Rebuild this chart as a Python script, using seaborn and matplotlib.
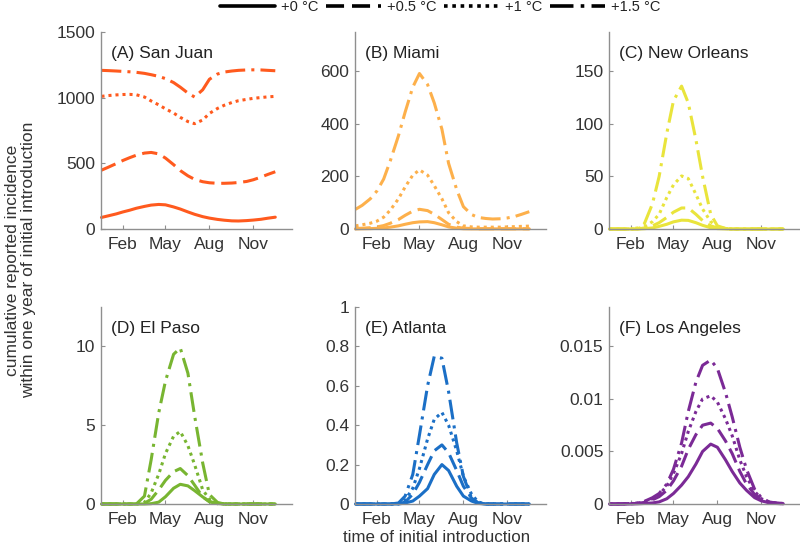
import numpy as np
import pandas as pd
import matplotlib
matplotlib.use("Agg")
import matplotlib.pyplot as plt
from matplotlib.lines import Line2D
from matplotlib.ticker import FuncFormatter
import seaborn as sns

# ===== DATA (semi-monthly sample days) =======================================

DAYS = [1, 15, 32, 46, 60, 74, 91, 105, 121, 135, 152, 166, 182,
        196, 213, 227, 244, 258, 274, 288, 305, 319, 335, 349, 365]
MONTH_TICKS = [46, 135, 227, 319]
MONTH_LABELS = ['Feb', 'May', 'Aug', 'Nov']
WARMING = ['+0 °C', '+0.5 °C', '+1 °C', '+1.5 °C']

# (A) San Juan
SAN_JUAN_0 = [88, 100, 115, 130, 143, 158, 172, 182, 187, 184, 168, 152, 130,
              112, 94, 83, 73, 67, 62, 61, 64, 68, 74, 82, 90]
SAN_JUAN_05 = [448, 470, 498, 522, 543, 562, 578, 583, 572, 540, 490, 445, 405,
               378, 360, 352, 348, 348, 350, 354, 362, 375, 395, 415, 436]
SAN_JUAN_1 = [1010, 1016, 1021, 1024, 1025, 1022, 1005, 975, 945, 915, 883, 850, 818,
              802, 830, 880, 918, 942, 963, 977, 987, 995, 1001, 1006, 1010]
SAN_JUAN_15 = [1208, 1206, 1203, 1200, 1197, 1193, 1185, 1175, 1162, 1145, 1115, 1080, 1035,
               1005, 1060, 1140, 1180, 1195, 1203, 1208, 1211, 1212, 1211, 1208, 1205]

# (B) Miami
MIAMI_0 = [0.5, 1, 1.5, 2.5, 4, 7, 12, 18, 24, 27, 28, 24, 16,
           8, 3, 1, 0.5, 0.5, 0.5, 0.5, 0.5, 0.5, 0.5, 0.5, 0.5]
MIAMI_05 = [2, 3, 5, 8, 13, 22, 36, 52, 68, 75, 70, 56, 36,
            18, 7, 3, 2, 1, 1, 1, 1, 1, 1, 1, 1]
MIAMI_1 = [12, 16, 22, 30, 45, 72, 115, 160, 205, 225, 205, 165, 115,
           62, 28, 12, 8, 7, 7, 7, 7, 8, 9, 10, 11]
MIAMI_15 = [75, 90, 115, 145, 190, 260, 355, 445, 540, 592, 550, 480, 380,
            250, 150, 85, 55, 44, 40, 38, 39, 42, 48, 56, 66]

# (C) New Orleans
NEW_ORLEANS_0 = [0, 0, 0, 0, 0, 0.3, 1, 2.5, 4.5, 6.8, 8.4, 8.2, 6,
                 3.5, 1.2, 0.4, 0.1, 0, 0, 0, 0, 0, 0, 0, 0]
NEW_ORLEANS_05 = [0, 0, 0, 0, 0, 1, 3, 6, 11, 16, 20, 20, 14,
                  8, 3, 1, 0.2, 0, 0, 0, 0, 0, 0, 0, 0]
NEW_ORLEANS_1 = [0, 0, 0, 0, 0.5, 2, 7, 14, 30, 42, 50.5, 48, 33,
                 19, 7, 2, 0.5, 0, 0, 0, 0, 0, 0, 0, 0]
NEW_ORLEANS_15 = [0, 0, 0, 0, 1, 5, 24, 50, 91, 122, 136, 120, 85,
                  50, 14, 3, 0.5, 0, 0, 0, 0, 0, 0, 0, 0]

# (D) El Paso
EL_PASO_0 = [0, 0, 0, 0, 0, 0, 0, 0.02, 0.12, 0.46, 1.0, 1.25, 1.15,
             0.85, 0.45, 0.15, 0.03, 0, 0, 0, 0, 0, 0, 0, 0]
EL_PASO_05 = [0, 0, 0, 0, 0, 0, 0.05, 0.3, 0.9, 1.5, 2.05, 2.25, 1.8,
              1.2, 0.45, 0.15, 0.02, 0, 0, 0, 0, 0, 0, 0, 0]
EL_PASO_1 = [0, 0, 0, 0, 0, 0, 0.1, 0.7, 1.9, 3.2, 4.3, 4.6, 3.7,
             2.5, 0.9, 0.3, 0.05, 0, 0, 0, 0, 0, 0, 0, 0]
EL_PASO_15 = [0, 0, 0, 0, 0, 0, 0.5, 2.8, 5.8, 7.8, 9.5, 9.9, 8.3,
              5.6, 2.6, 0.6, 0.1, 0, 0, 0, 0, 0, 0, 0, 0]

# (E) Atlanta
ATLANTA_0 = [0, 0, 0, 0, 0, 0, 0, 0.005, 0.015, 0.04, 0.078, 0.15, 0.20,
             0.17, 0.09, 0.04, 0.015, 0.003, 0, 0, 0, 0, 0, 0, 0]
ATLANTA_05 = [0, 0, 0, 0, 0, 0, 0, 0.01, 0.05, 0.11, 0.20, 0.27, 0.30,
              0.26, 0.17, 0.09, 0.03, 0.005, 0, 0, 0, 0, 0, 0, 0]
ATLANTA_1 = [0, 0, 0, 0, 0, 0, 0, 0.02, 0.08, 0.18, 0.33, 0.43, 0.465,
             0.40, 0.27, 0.14, 0.05, 0.01, 0, 0, 0, 0, 0, 0, 0]
ATLANTA_15 = [0, 0, 0, 0, 0, 0, 0.005, 0.04, 0.15, 0.35, 0.60, 0.75, 0.74,
              0.57, 0.31, 0.14, 0.03, 0.005, 0, 0, 0, 0, 0, 0, 0]

# (F) Los Angeles
LOS_ANGELES_0 = [0, 0, 0, 0, 0.00002, 0.00005, 0.0001, 0.0002, 0.0005, 0.001, 0.0018, 0.0026, 0.0038,
                 0.0050, 0.0057, 0.0054, 0.0042, 0.0031, 0.002, 0.0013, 0.0006, 0.0003, 0.00012, 0.00005, 0.00002]
LOS_ANGELES_05 = [0, 0, 0.00001, 0.00003, 0.00006, 0.00015, 0.0004, 0.0007, 0.0013, 0.0022, 0.0036, 0.0052, 0.0066,
                  0.0075, 0.0077, 0.0072, 0.006, 0.0048, 0.0031, 0.0019, 0.0009, 0.0004, 0.00015, 0.00007, 0.00003]
LOS_ANGELES_1 = [0, 0, 0.00002, 0.00004, 0.00008, 0.0002, 0.0005, 0.0009, 0.0017, 0.0029, 0.0048, 0.0069, 0.0088,
                 0.0100, 0.0103, 0.0097, 0.0081, 0.0065, 0.0042, 0.0026, 0.0012, 0.0005, 0.0002, 0.0001, 0.00004]
LOS_ANGELES_15 = [0, 0, 0.00002, 0.00005, 0.0001, 0.00025, 0.0006, 0.001, 0.0019, 0.0033, 0.0058, 0.0088, 0.0116,
                  0.0132, 0.0137, 0.0129, 0.0106, 0.0083, 0.0054, 0.0033, 0.0014, 0.0006, 0.0002, 0.0001, 0.00005]

# ===== STYLE =================================================================

sns.set_style('ticks')
plt.rcParams['font.family'] = ['Liberation Sans', 'DejaVu Sans']

SPINE_GREY = '#8f8f8f'
TEXT_GREY = '#333333'
FS = 12.5
DASHES = {'+0 °C': '', '+0.5 °C': (5, 2.2), '+1 °C': (1, 1.3), '+1.5 °C': (6.5, 2, 1, 2)}

panels = [
    ('(A) San Juan', '#ff5a1e', [SAN_JUAN_0, SAN_JUAN_05, SAN_JUAN_1, SAN_JUAN_15],
     1500, [0, 500, 1000, 1500]),
    ('(B) Miami', '#fdb04b', [MIAMI_0, MIAMI_05, MIAMI_1, MIAMI_15],
     750, [0, 200, 400, 600]),
    ('(C) New Orleans', '#e9e43c', [NEW_ORLEANS_0, NEW_ORLEANS_05, NEW_ORLEANS_1, NEW_ORLEANS_15],
     187.5, [0, 50, 100, 150]),
    ('(D) El Paso', '#78b531', [EL_PASO_0, EL_PASO_05, EL_PASO_1, EL_PASO_15],
     12.5, [0, 5, 10]),
    ('(E) Atlanta', '#1b6fc6', [ATLANTA_0, ATLANTA_05, ATLANTA_1, ATLANTA_15],
     1.0, [0, 0.2, 0.4, 0.6, 0.8, 1]),
    ('(F) Los Angeles', '#7b2a96', [LOS_ANGELES_0, LOS_ANGELES_05, LOS_ANGELES_1, LOS_ANGELES_15],
     0.01875, [0, 0.005, 0.01, 0.015]),
]

# axes positions in figure pixels
COL_LEFT = [101, 355, 609]
ROW_BOTTOM = [229, 504]
AX_W, AX_H = 191, 197
FIG_W, FIG_H = 800, 551

fig = plt.figure(figsize=(8, 5.51), dpi=100)

for i, (title, color, curves, ytop, yticks) in enumerate(panels):
    row, col = divmod(i, 3)
    left = COL_LEFT[col] / FIG_W
    bottom = 1 - ROW_BOTTOM[row] / FIG_H
    ax = fig.add_axes([left, bottom, AX_W / FIG_W, AX_H / FIG_H])

    df = pd.DataFrame({
        'day': DAYS * 4,
        'incidence': np.concatenate(curves),
        'warming': np.repeat(WARMING, len(DAYS)),
    })
    sns.lineplot(data=df, x='day', y='incidence', style='warming',
                 style_order=WARMING, dashes=DASHES, color=color,
                 linewidth=2.2, estimator=None, sort=False,
                 legend=False, ax=ax, clip_on=False)

    ax.set_xlim(0, 400)
    ax.set_ylim(0, ytop)
    ax.set_xticks(MONTH_TICKS)
    ax.set_xticklabels(MONTH_LABELS)
    ax.set_yticks(yticks)
    ax.yaxis.set_major_formatter(FuncFormatter(lambda v, p: f'{v:g}'))
    ax.set_xlabel('')
    ax.set_ylabel('')
    for s in ['top', 'right']:
        ax.spines[s].set_visible(False)
    for s in ['left', 'bottom']:
        ax.spines[s].set_color(SPINE_GREY)
        ax.spines[s].set_linewidth(1.0)
    ax.tick_params(direction='in', length=3, width=0.8, color=SPINE_GREY,
                   labelcolor=TEXT_GREY, labelsize=FS)
    ax.tick_params(axis='x', pad=6)
    ax.tick_params(axis='y', pad=4)
    ax.text(0.052, 0.893, title, transform=ax.transAxes, fontsize=FS,
            color='#222222', va='center', ha='left')

# shared axis labels
fig.text(0.026, 0.528, 'cumulative reported incidence\nwithin one year of initial introduction',
         rotation=90, ha='center', va='center', fontsize=FS, color=TEXT_GREY,
         linespacing=1.1)
fig.text(0.546, 0.025, 'time of initial introduction', ha='center', va='center',
         fontsize=12.2, color=TEXT_GREY)

# legend with black line samples
handles = [Line2D([0], [0], color='black', lw=2.6,
                  linestyle=(0, DASHES[w]) if DASHES[w] else '-')
           for w in WARMING]
fig.legend(handles, WARMING, loc='center', bbox_to_anchor=(0.55, 0.987),
           ncol=4, frameon=False, fontsize=10.5, handlelength=3.8,
           handletextpad=0.4, columnspacing=0.5, borderpad=0,
           labelcolor='#222222')

fig.savefig('out.png', dpi=100)
